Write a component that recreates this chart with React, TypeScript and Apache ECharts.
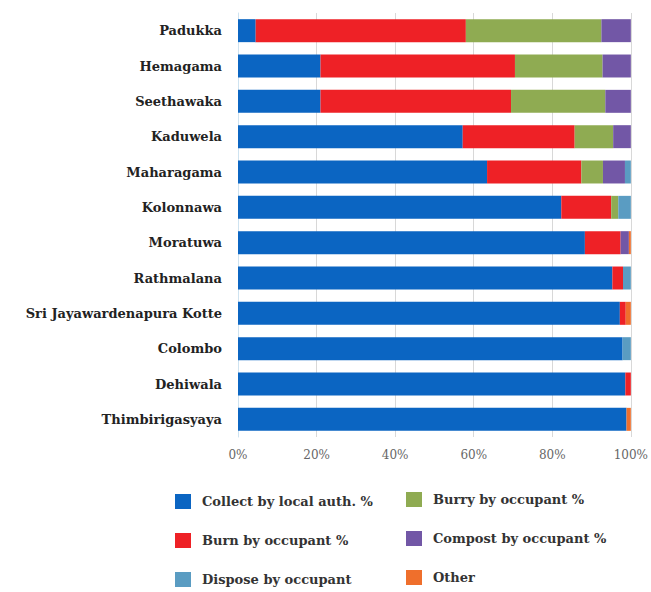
import React, { useEffect, useRef } from "react";
import * as echarts from "echarts";

const categories = [
  "Padukka",
  "Hemagama",
  "Seethawaka",
  "Kaduwela",
  "Maharagama",
  "Kolonnawa",
  "Moratuwa",
  "Rathmalana",
  "Sri Jayawardenapura Kotte",
  "Colombo",
  "Dehiwala",
  "Thimbirigasyaya",
];

const collect = [4.5, 21, 21, 57.2, 63.4, 82.3, 88.3, 95.3, 97.2, 97.9, 98.6, 98.9];
const burn = [53.5, 49.5, 48.5, 28.5, 24.0, 12.7, 9.1, 2.7, 1.5, 0, 1.4, 0];
const burry = [34.5, 22.3, 24.0, 9.8, 5.5, 1.8, 0, 0, 0, 0, 0, 0];
const compost = [7.5, 7.2, 6.5, 4.5, 5.6, 0, 2.1, 0, 0, 0, 0, 0];
const dispose = [0, 0, 0, 0, 1.5, 3.2, 0, 2.0, 0, 2.1, 0, 0];
const other = [0, 0, 0, 0, 0, 0, 0.5, 0, 1.3, 0, 0, 1.1];

const tickLabels = ["0%", "20%", "40%", "60%", "80%", "100%"];

const seriesDefs = [
  { name: "Collect by local auth. %", data: collect, color: "#0b65c2" },
  { name: "Burn by occupant %", data: burn, color: "#ee2126" },
  { name: "Burry by occupant %", data: burry, color: "#8fab52" },
  { name: "Compost by occupant %", data: compost, color: "#7257a6" },
  { name: "Dispose by occupant", data: dispose, color: "#5a9cc2" },
  { name: "Other", data: other, color: "#ef6f2c" },
];

export default function App() {
  const ref = useRef<HTMLDivElement>(null);
  useEffect(() => {
    document.body.style.margin = "0";
    const chart = echarts.init(ref.current!, null, { renderer: "svg" });
    const serif = "'DejaVu Serif', serif";
    const legendText = {
      fontFamily: serif,
      fontWeight: "bold",
      fontSize: 13,
      color: "#333",
      padding: [0, 0, 0, 6],
    };
    const legendCommon = {
      orient: "vertical",
      padding: 0,
      height: 100,
      itemWidth: 16,
      itemHeight: 15,
      itemGap: 24,
      icon: "rect",
      textStyle: legendText,
    };
    chart.setOption({
      animation: false,
      backgroundColor: "#ffffff",
      grid: { left: 238, right: 19, top: 13, bottom: 155, containLabel: false },
      xAxis: {
        type: "value",
        min: 0,
        max: 100,
        interval: 20,
        axisLabel: {
          formatter: (v: number) => tickLabels[Math.round(v / 20)],
          fontFamily: serif,
          fontSize: 12,
          color: "#666",
          margin: 12,
        },
        axisLine: { show: false },
        axisTick: { show: false },
        splitLine: { show: true, lineStyle: { color: "#d8d8d8", width: 1 } },
      },
      yAxis: {
        type: "category",
        data: categories,
        inverse: true,
        axisLabel: {
          fontFamily: serif,
          fontWeight: "bold",
          fontSize: 13,
          color: "#222",
          margin: 16,
        },
        axisLine: { show: true, lineStyle: { color: "#cfe3f0" } },
        axisTick: { show: false },
      },
      legend: [
        {
          ...legendCommon,
          data: [seriesDefs[0].name, seriesDefs[1].name, seriesDefs[4].name],
          left: 175,
          top: 494,
        },
        {
          ...legendCommon,
          data: [seriesDefs[2].name, seriesDefs[3].name, seriesDefs[5].name],
          left: 406,
          top: 492,
        },
      ],
      series: seriesDefs.map((s) => ({
        name: s.name,
        type: "bar",
        stack: "total",
        barWidth: "65%",
        data: s.data,
        itemStyle: { color: s.color },
      })),
    });
    return () => chart.dispose();
  }, []);
  return <div ref={ref} style={{ width: 651, height: 592 }} />;
}
